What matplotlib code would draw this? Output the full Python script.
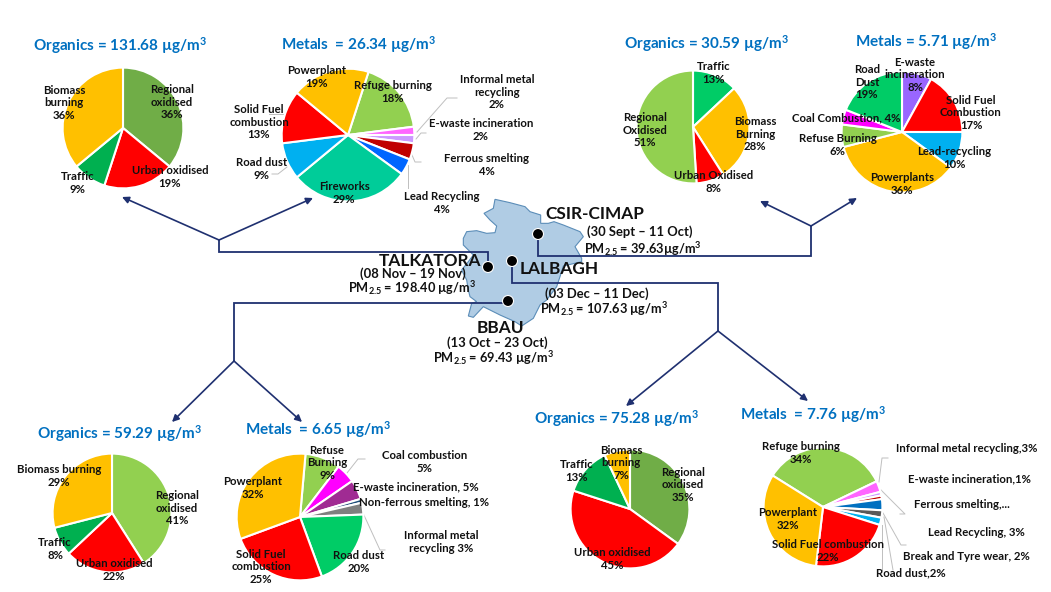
import matplotlib

matplotlib.use("Agg")
import matplotlib.pyplot as plt
from matplotlib.patches import Circle, Polygon

W, H = 1051, 592

plt.rcParams.update(
    {
        "font.family": ["Lato", "DejaVu Sans"],
        "font.weight": "bold",
        "mathtext.default": "regular",
    }
)

YELLOW = "#FFC000"
RED = "#FF0000"
DARK_GREEN = "#70AD47"
LIGHT_GREEN = "#92D050"
TRAFFIC_GREEN = "#00B050"
ROAD_GREEN = "#00CC66"
TEAL = "#00CC99"
SKY = "#00B0F0"
BLUE = "#0066FF"
DARK_RED = "#C00000"
LILAC = "#CC99FF"
PINK = "#FF66FF"
MAGENTA = "#FF00FF"
PURPLE = "#9966FF"
NAVY = "#1F3070"
TITLE_BLUE = "#0070C0"

# talkatora
TK_ORG_LABELS = ["Regional\noxidised\n{}%", "Urban oxidised\n{}%", "Traffic\n{}%", "Biomass\nburning\n{}%"]
TK_ORG_VALUES = [36, 19, 9, 36]
TK_MET_LABELS = [
    "Refuge burning\n{}%",
    "Informal metal\nrecycling\n{}%",
    "E-waste incineration\n{}%",
    "Ferrous smelting\n{}%",
    "Lead Recycling\n{}%",
    "Fireworks\n{}%",
    "Road dust\n{}%",
    "Solid Fuel\ncombustion\n{}%",
    "Powerplant\n{}%",
]
TK_MET_VALUES = [18, 2, 2, 4, 4, 29, 9, 13, 19]

# cimap
CM_ORG_LABELS = ["Traffic\n{}%", "Biomass\nBurning\n{}%", "Urban Oxidised\n{}%", "Regional\nOxidised\n{}%"]
CM_ORG_VALUES = [13, 28, 8, 51]
CM_MET_LABELS = [
    "E-waste\nincineration\n{}%",
    "Solid Fuel\nCombustion\n{}%",
    "Lead-recycling\n{}%",
    "Powerplants\n{}%",
    "Refuse Burning\n{}%",
    "Coal Combustion, {}%",
    "Road\nDust\n{}%",
]
CM_MET_VALUES = [8, 17, 10, 36, 6, 4, 19]

# bbau
BB_ORG_LABELS = ["Regional\noxidised\n{}%", "Urban oxidised\n{}%", "Traffic\n{}%", "Biomass burning\n{}%"]
BB_ORG_VALUES = [41, 22, 8, 29]
BB_MET_LABELS = [
    "Refuse\nBurning\n{}%",
    "Coal combustion\n{}%",
    "E-waste incineration, {}%",
    "Non-ferrous smelting, {}%",
    "Informal metal\nrecycling {}%",
    "Road dust\n{}%",
    "Solid Fuel\ncombustion\n{}%",
    "Powerplant\n{}%",
]
BB_MET_VALUES = [9, 5, 5, 1, 3, 20, 25, 32]

# lalbagh
LB_ORG_LABELS = ["Regional\noxidised\n{}%", "Urban oxidised\n{}%", "Traffic\n{}%", "Biomass\nburning\n{}%"]
LB_ORG_VALUES = [35, 45, 13, 7]
LB_MET_LABELS = [
    "Refuge burning\n{}%",
    "Informal metal recycling,{}%",
    "E-waste incineration,{}%",
    "Ferrous smelting,...",
    "Lead Recycling, {}%",
    "Break and Tyre wear, {}%",
    "Road dust,{}%",
    "Solid Fuel combustion\n{}%",
    "Powerplant\n{}%",
]
LB_MET_VALUES = [34, 3, 1, 1, 3, 2, 2, 22, 32]

# centre x, centre y, radius in pixels, start angle, colours, label centres
PIES = [
    (
        TK_ORG_LABELS, TK_ORG_VALUES, (123, 128, 61), 90,
        [DARK_GREEN, RED, TRAFFIC_GREEN, YELLOW],
        [(172, 102), (170, 177), (78, 183), (64, 103)],
    ),
    (
        TK_MET_LABELS, TK_MET_VALUES, (348, 135, 67), 72,
        [LIGHT_GREEN, PINK, LILAC, DARK_RED, BLUE, TEAL, SKY, RED, YELLOW],
        [(393, 92), (497, 92), (481, 130), (487, 165), (442, 203), (344, 193), (262, 169), (259, 122), (317, 77)],
    ),
    (
        CM_ORG_LABELS, CM_ORG_VALUES, (693, 127, 57), 90,
        [ROAD_GREEN, YELLOW, RED, LIGHT_GREEN],
        [(714, 73), (755, 134), (714, 182), (645, 130)],
    ),
    (
        CM_MET_LABELS, CM_MET_VALUES, (902, 132, 61), 90,
        [PURPLE, RED, SKY, YELLOW, LIGHT_GREEN, MAGENTA, ROAD_GREEN],
        [(915, 75), (971, 113), (954, 158), (902, 184), (838, 145), (846, 118), (867, 82)],
    ),
    (
        BB_ORG_LABELS, BB_ORG_VALUES, (112, 513, 60), 90,
        [LIGHT_GREEN, RED, TRAFFIC_GREEN, YELLOW],
        [(177, 508), (114, 570), (55, 549), (59, 476)],
    ),
    (
        BB_MET_LABELS, BB_MET_VALUES, (300, 517, 64), 85,
        [LIGHT_GREEN, MAGENTA, "#A02B93", "#1F4E79", "#7F7F7F", ROAD_GREEN, RED, YELLOW],
        [(327, 463), (425, 462), (416, 487), (424, 503), (441, 542), (359, 562), (261, 567), (253, 488)],
    ),
    (
        LB_ORG_LABELS, LB_ORG_VALUES, (630, 509, 60), 90,
        [DARK_GREEN, RED, TRAFFIC_GREEN, YELLOW],
        [(683, 485), (612, 559), (577, 471), (621, 463)],
    ),
    (
        LB_MET_LABELS, LB_MET_VALUES, (823, 507, 60), 148,
        [LIGHT_GREEN, PINK, LILAC, DARK_RED, "#0070C0", "#595959", SKY, RED, YELLOW],
        [(801, 453), (967, 448), (969, 479), (962, 504), (976, 532), (966, 556), (911, 573), (828, 551), (788, 519)],
    ),
]

TITLES = [
    ("Organics = 131.68 µg/m$^{3}$", 120, 46),
    ("Metals  = 26.34 µg/m$^{3}$", 358, 45),
    ("Organics = 30.59 µg/m$^{3}$", 707, 44),
    ("Metals = 5.71 µg/m$^{3}$", 926, 42),
    ("Organics = 59.29 µg/m$^{3}$", 120, 434),
    ("Metals  = 6.65 µg/m$^{3}$", 318, 430),
    ("Organics = 75.28 µg/m$^{3}$", 617, 419),
    ("Metals  = 7.76 µg/m$^{3}$", 813, 415),
]

SITES = [
    ("CSIR-CIMAP", 595, 214, 12.4),
    ("(30 Sept – 11 Oct)", 640, 232, 9.4),
    ("PM$_{2.5}$ = 39.63µg/m$^{3}$", 643, 249, 9.2),
    ("TALKATORA", 430, 261, 12.4),
    ("(08 Nov – 19 Nov)", 413, 274, 9.4),
    ("PM$_{2.5}$ = 198.40 µg/m$^{3}$", 412, 288, 9.2),
    ("LALBAGH", 559, 269, 12.4),
    ("(03 Dec – 11 Dec)", 597, 294, 9.4),
    ("PM$_{2.5}$ = 107.63 µg/m$^{3}$", 604, 309, 9.2),
    ("BBAU", 500, 328, 12.4),
    ("(13 Oct – 23 Oct)", 497, 343, 9.4),
    ("PM$_{2.5}$ = 69.43 µg/m$^{3}$", 493, 358, 9.2),
]

MAP_TRACE = [
    (495, 28), (540, 38), (585, 50), (600, 65), (632, 75), (632, 100), (655, 100), (672, 95),
    (700, 105), (750, 125), (760, 140), (735, 170), (755, 205), (755, 215), (700, 228), (690, 260),
    (680, 290), (650, 330), (630, 345), (610, 385), (575, 408), (555, 395), (510, 375), (480, 360),
    (460, 350), (430, 382), (415, 378), (425, 340), (440, 335), (420, 320), (415, 300), (410, 270),
    (395, 240), (415, 215), (430, 195), (400, 165), (400, 145), (410, 125), (440, 122), (470, 130),
    (495, 128), (500, 108), (480, 90), (462, 70), (490, 55),
]

DOTS = [(538, 234), (488, 267), (512, 261), (508, 301)]

ROUTES = [
    [(488, 267), (488, 252), (219, 252), (219, 240)],
    [(538, 234), (538, 256), (811, 256), (811, 226)],
    [(512, 261), (512, 283), (718, 283), (718, 331)],
    [(508, 301), (508, 303), (234, 303), (234, 361)],
]

ARROWS = [
    ((219, 240), (122, 197)),
    ((219, 240), (313, 198)),
    ((811, 226), (760, 201)),
    ((811, 226), (857, 198)),
    ((718, 331), (626, 406)),
    ((718, 331), (808, 401)),
    ((234, 361), (172, 422)),
    ((234, 361), (302, 422)),
]

LEADERS = [
    [(457, 98), (447, 98), (417, 132)],
    [(426, 133), (421, 133), (416, 139)],
    [(421, 162), (415, 162), (412, 155)],
    [(408, 165), (408, 188)],
    [(284, 114), (269, 114)],
    [(287, 167), (278, 174), (272, 174)],
    [(365, 459), (358, 459), (347, 473)],
    [(385, 550), (380, 550), (363, 513)],
    [(888, 458), (882, 458), (879, 482)],
    [(881, 490), (905, 514), (900, 514)],
    [(883, 513), (901, 545), (906, 545)],
    [(882, 525), (882, 570)],
    [(884, 517), (893, 570)],
]

fig = plt.figure(figsize=(W / 100, H / 100), dpi=100, facecolor="white")

# pixel canvas underneath for the map and routes
base = fig.add_axes([0, 0, 1, 1], zorder=1)
base.set_xlim(0, W)
base.set_ylim(H, 0)
base.axis("off")

base.add_patch(
    Polygon(
        [(330 + x / 3, 190 + y / 3) for x, y in MAP_TRACE],
        closed=True, facecolor="#B0CCE4", edgecolor="#5B8DB8", linewidth=0.8,
    )
)
for route in ROUTES:
    base.plot(*zip(*route), color=NAVY, linewidth=1.3, solid_joinstyle="miter")
for start, end in ARROWS:
    base.annotate(
        "", xy=end, xytext=start,
        arrowprops=dict(arrowstyle="-|>", color=NAVY, linewidth=1.2, mutation_scale=10, shrinkA=0, shrinkB=0),
    )
for line in LEADERS:
    base.plot(*zip(*line), color="#BFBFBF", linewidth=0.7)
for x, y in DOTS:
    base.add_patch(Circle((x, y), 5.5, facecolor="black", edgecolor="white", linewidth=0.8, zorder=4))

for labels, values, (cx, cy, r), start, colors, _ in PIES:
    ax = fig.add_axes([(cx - r) / W, 1 - (cy + r) / H, 2 * r / W, 2 * r / H], zorder=2)
    ax.pie(
        values, colors=colors, startangle=start, counterclock=False,
        wedgeprops={"edgecolor": "white", "linewidth": 1.5},
    )
    ax.set_xlim(-1.01, 1.01)
    ax.set_ylim(-1.01, 1.01)

# text sits on top of everything
top = fig.add_axes([0, 0, 1, 1], zorder=3)
top.set_xlim(0, W)
top.set_ylim(H, 0)
top.axis("off")
top.patch.set_alpha(0)

for labels, values, _, _, _, spots in PIES:
    for label, value, (x, y) in zip(labels, values, spots):
        top.text(x, y, label.format(value), ha="center", va="center", fontsize=8.2,
                 color="#111111", linespacing=1.22)

for text, x, y in TITLES:
    top.text(x, y, text, ha="center", va="center", fontsize=11, color=TITLE_BLUE)

for text, x, y, size in SITES:
    top.text(x, y, text, ha="center", va="center", fontsize=size, color="#111111")

fig.savefig("out.png", dpi=100)
